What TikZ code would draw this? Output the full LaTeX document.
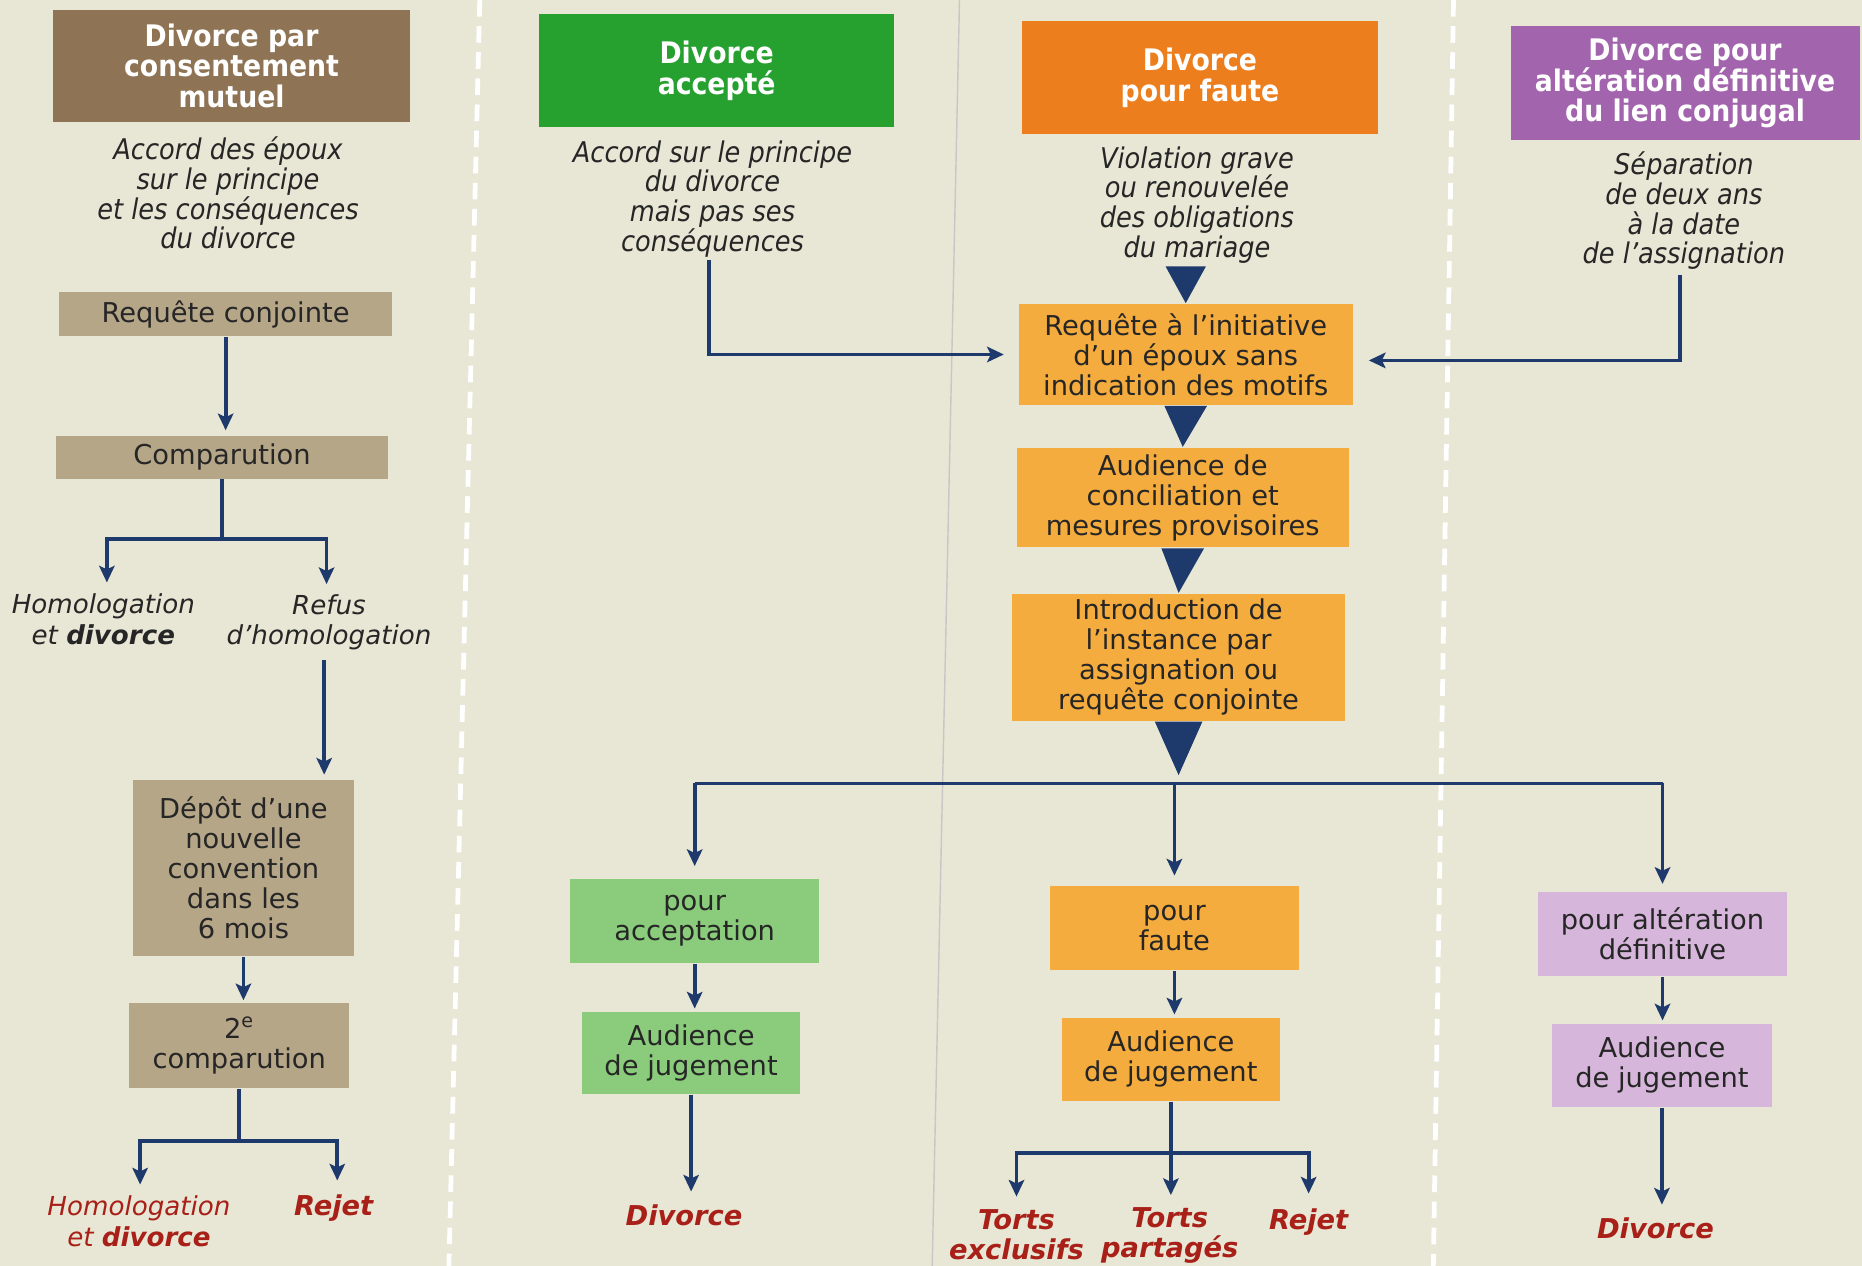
\documentclass[tikz,border=0pt]{standalone}
\usepackage{fontspec}
\setmainfont{DejaVu Sans}
\newfontfamily\condfont{DejaVu Sans Condensed}
\usetikzlibrary{arrows.meta,calc}
\definecolor{paper}{RGB}{232,231,213}
\definecolor{navy}{RGB}{30,58,108}
\definecolor{verdict}{RGB}{168,32,24}
\definecolor{brownhead}{RGB}{142,116,84}
\definecolor{brownbox}{RGB}{182,166,136}
\definecolor{greenhead}{RGB}{38,160,46}
\definecolor{greenbox}{RGB}{138,204,124}
\definecolor{orangehead}{RGB}{236,126,30}
\definecolor{orangebox}{RGB}{244,172,62}
\definecolor{purplehead}{RGB}{162,100,172}
\definecolor{purplebox}{RGB}{214,182,218}
\tikzset{every picture/.style={line width=0.7pt}}
\tikzset{
  head/.style={fill=#1, text=white, align=center, inner sep=0pt,
    font=\condfont\bfseries\fontsize{12.5}{12.8}\selectfont},
  box/.style={fill=#1, text=black!85, align=center, inner sep=0pt,
    font=\fontsize{11.5}{12.6}\selectfont},
  desc/.style={text=black!85, align=center, inner sep=0pt,
    font=\condfont\itshape\fontsize{12}{12.5}\selectfont},
  note/.style={text=black!85, align=center, inner sep=0pt,
    font=\itshape\fontsize{11}{12.8}\selectfont},
  res/.style={text=verdict, align=center, inner sep=0pt,
    font=\bfseries\itshape\fontsize{11.5}{12.6}\selectfont},
  conn/.style={draw=navy, line width=1.6pt},
  arr/.style={conn, -{Stealth[length=7pt,width=6.5pt,inset=1.5pt]}},
  sep/.style={draw=white, line width=2pt, dash pattern=on 7pt off 4pt},
  fold/.style={draw=black!22, line width=0.6pt},
}
\begin{document}
\begin{tikzpicture}[x=0.5pt,y=0.5pt,yscale=-1,xscale=1]
\useasboundingbox (0,0) rectangle (1568,1066);
\fill[paper] (0,0) rectangle (1568,1066);

%Straight Lines: column separators and page fold
\draw[sep] (404,0) -- (378,1066);
\draw[sep] (1224,0) -- (1207,1066);
\draw[fold] (808,0) -- (785,1066);

%Shape: Rectangle (headers)
\node[head=brownhead, minimum width=150pt, minimum height=47.5pt] (h1) at (195,55.5) {Divorce par\\consentement\\mutuel};
\node[head=greenhead, minimum width=149.5pt, minimum height=47.5pt] (h2) at (603.5,59.5) {Divorce\\accepté};
\node[head=orangehead, minimum width=149.5pt, minimum height=47.5pt] (h3) at (1010.5,65.5) {Divorce\\pour faute};
\node[head=purplehead, minimum width=147pt, minimum height=48pt] (h4) at (1419,70) {Divorce pour\\altération définitive\\du lien conjugal};

% Text Node (descriptions)
\node[desc] (d1) at (192,162.5) {Accord des époux\\sur le principe\\et les conséquences\\du divorce};
\node[desc] (d2) at (600,167.5) {Accord sur le principe\\du divorce\\mais pas ses\\conséquences};
\node[desc] (d3) at (1008,172.5) {Violation grave\\ou renouvelée\\des obligations\\du mariage};
\node[desc] (d4) at (1418,177.5) {Séparation\\de deux ans\\à la date\\de l’assignation};

%Shape: Rectangle (consentement mutuel)
\node[box=brownbox, minimum width=140pt, minimum height=18.5pt] (rq) at (190,264.5) {Requête conjointe};
\node[box=brownbox, minimum width=140pt, minimum height=18pt] (cp) at (187,385) {Comparution};
\node[box=brownbox, minimum width=93pt, minimum height=74pt] (dep) at (205,731) {Dépôt d’une\\nouvelle\\convention\\dans les\\6 mois};
\node[box=brownbox, minimum width=92.5pt, minimum height=35.5pt] (cp2) at (201.5,880.5) {2\textsuperscript{e}\\comparution};

% Text Node
\node[note] (hom1) at (87,521.5) {Homologation\\et \textbf{divorce}};
\node[note] (ref) at (277,524) {Refus\\d’homologation};
\node[note, text=verdict] (hom2) at (117,1028.5) {Homologation\\et \textbf{divorce}};
\node[res] (rej1) at (281,1017) {Rejet};

%Shape: Rectangle (accepté)
\node[box=greenbox, minimum width=105pt, minimum height=35.5pt] (acc) at (585,775.5) {pour\\acceptation};
\node[box=greenbox, minimum width=92pt, minimum height=34.5pt] (aj2) at (582,886.5) {Audience\\de jugement};
\node[res] (div2) at (576,1023) {Divorce};

%Shape: Rectangle (pour faute)
\node[box=orangebox, minimum width=140.5pt, minimum height=42.5pt] (ri) at (998.5,298.5) {Requête à l’initiative\\d’un époux sans\\indication des motifs};
\node[box=orangebox, minimum width=140pt, minimum height=42pt] (ac) at (996,419) {Audience de\\conciliation et\\mesures provisoires};
\node[box=orangebox, minimum width=140.5pt, minimum height=53.5pt] (it) at (992.5,553.5) {Introduction de\\l’instance par\\assignation ou\\requête conjointe};
\node[box=orangebox, minimum width=105pt, minimum height=35.5pt] (pf) at (989,781.5) {pour\\faute};
\node[box=orangebox, minimum width=92pt, minimum height=35pt] (aj3) at (986,892) {Audience\\de jugement};
\node[res] (te) at (856,1039.5) {Torts\\exclusifs};
\node[res] (tp) at (985,1040.5) {Torts\\partagés};
\node[res] (rej3) at (1102,1029) {Rejet};

%Shape: Rectangle (altération définitive)
\node[box=purplebox, minimum width=105pt, minimum height=35.5pt] (pa) at (1400,786.5) {pour altération\\définitive};
\node[box=purplebox, minimum width=92.5pt, minimum height=35pt] (aj4) at (1399.5,897) {Audience\\de jugement};
\node[res] (div4) at (1394,1034) {Divorce};

%Straight Lines (column 1)
\draw[arr, shorten >=2pt] (rq.south) -- (rq.south |- cp.north);
\draw[conn] (cp.south) -- ++(0,50) coordinate (cpfork);
\draw[arr] (cpfork) -| ($(hom1.north)+(3,-9)$);
\draw[arr] (cpfork) -| ($(ref.north)+(-2,-8)$);
\draw[arr] ($(ref.south)+(-4,8)$) -- ($(ref.south |- dep.north)+(-4,-4)$);
\draw[arr, shorten >=1pt] (dep.south) -- (dep.south |- cp2.north);
\draw[conn] (cp2.south) -- ++(0,44) coordinate (cp2fork);
\draw[arr] (cp2fork) -| ($(hom2.north)+(1,-9)$);
\draw[arr] (cp2fork) -| ($(rej1.north)+(3,-11)$);

%Straight Lines (column 2)
\draw[arr, shorten >=6pt] ($(d2.south)+(-3,2)$) |- (ri.west);
\draw[arr, shorten >=1pt] (acc.south) -- (acc.south |- aj2.north);
\draw[arr, shorten >=5pt] (aj2.south) -- (aj2.south |- div2.north);

%Shape: Triangle (column 3)
\fill[navy] ($(d3.south -| ri.north)+(-17,2)$) -- ($(d3.south -| ri.north)+(17,2)$) -- (ri.north) -- cycle;
\fill[navy] ($(ri.south)+(-18,0)$) -- ($(ri.south)+(18,0)$) -- (ac.north) -- cycle;
\fill[navy] ($(ac.south)+(-18,0)$) -- ($(ac.south)+(18,0)$) -- (it.north) -- cycle;
\coordinate (fork) at ($(it.south)+(0,52)$);
\fill[navy] ($(it.south)+(-20,0)$) -- ($(it.south)+(20,0)$) -- ($(fork)+(0,-7)$) -- cycle;

%Straight Lines (branches)
\draw[conn] (fork -| acc.north) -- (fork -| pa.north);
\draw[arr, shorten >=5pt] (fork -| acc.north) -- (acc.north);
\draw[arr, shorten >=4pt] (fork -| pf.north) -- (pf.north);
\draw[arr, shorten >=3pt] (fork -| pa.north) -- (pa.north);
\draw[arr, shorten >=1pt] (pf.south) -- (pf.south |- aj3.north);
\draw[conn] (aj3.south) -- ++(0,43) coordinate (aj3fork);
\draw[arr, shorten >=5pt] (aj3fork) -| (te.north);
\draw[arr, shorten >=5pt] (aj3fork) -- (aj3fork |- tp.north);
\draw[arr, shorten >=6pt] (aj3fork) -| (rej3.north);

%Straight Lines (column 4)
\draw[arr, shorten >=6.5pt] ($(d4.south)+(-3,4)$) |- ($(ri.east)+(0,5)$);
\draw[arr, shorten >=1pt] (pa.south) -- (pa.south |- aj4.north);
\draw[arr, shorten >=5pt] (aj4.south) -- (aj4.south |- div4.north);

\end{tikzpicture}
\end{document}
